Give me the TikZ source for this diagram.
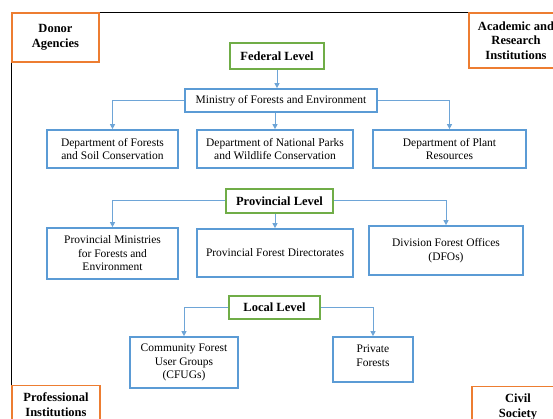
\documentclass[tikz,border=0pt]{standalone}
\usepackage{fontspec}
\setmainfont{Liberation Serif}
\usetikzlibrary{arrows.meta}
\definecolor{bblue}{RGB}{91,155,213}
\definecolor{lblue}{RGB}{110,165,215}
\definecolor{ggreen}{RGB}{112,173,71}
\definecolor{oorange}{RGB}{237,125,49}
\tikzset{
  unitbox/.style={draw=bblue, line width=1.7pt, align=center, inner sep=2pt,
    font=\fontsize{11.5}{13.5}\selectfont},
  levelbox/.style={draw=ggreen, line width=1.5pt, align=center, inner sep=2pt,
    font=\fontsize{12.5}{14.5}\selectfont\bfseries},
  actorbox/.style={draw=oorange, line width=1.4pt, align=center, inner sep=2pt,
    font=\fontsize{12.5}{14.5}\selectfont\bfseries},
  link/.style={draw=lblue, line width=1pt, -{Triangle[length=5pt,width=5pt]}},
  frame/.style={draw=black, line width=1.4pt}
}
\begin{document}
\begin{tikzpicture}[x=1pt,y=-1pt]
\useasboundingbox (0,0) rectangle (553,419);
% corner actors
\node[actorbox, minimum width=87pt, minimum height=49pt] (donor) at (55.5,37.5) {Donor\\Agencies};
\node[actorbox, minimum width=94pt, minimum height=55pt] (acad) at (516,40.5) {Academic and\\Research\\Institutions};
\node[actorbox, minimum width=88pt, minimum height=50pt, anchor=north] (prof) at (56,385) {Professional\\Institutions\\[-2pt]};
\node[actorbox, minimum width=92pt, minimum height=50pt, anchor=north] (civil) at (518,386) {Civil\\Society\\[-2pt]};
% frame
\draw[frame] (donor.north east) -- (acad.north west);
\draw[frame] (donor.south west) -- (prof.north west);
% federal
\node[levelbox, minimum width=94pt, minimum height=26pt] (fed) at (277,56) {Federal Level};
\node[unitbox, minimum width=192pt, minimum height=23pt] (min) at (281,100.5) {Ministry of Forests and Environment};
\node[unitbox, minimum width=131pt, minimum height=38pt] (d1) at (112.5,149) {Department of Forests\\and Soil Conservation};
\node[unitbox, minimum width=156pt, minimum height=38pt] (d2) at (275,149) {Department of National Parks\\and Wildlife Conservation};
\node[unitbox, minimum width=153pt, minimum height=38pt] (d3) at (449.5,149) {Department of Plant\\Resources};
% provincial
\node[levelbox, minimum width=107pt, minimum height=24pt] (prov) at (279.5,201) {Provincial Level};
\node[unitbox, minimum width=131pt, minimum height=51pt] (p1) at (112.5,253.5) {Provincial Ministries\\for Forests and\\Environment};
\node[unitbox, minimum width=156pt, minimum height=48pt] (p2) at (275,253) {Provincial Forest Directorates};
\node[unitbox, minimum width=154pt, minimum height=49pt] (p3) at (446,250.5) {Division Forest Offices\\(DFOs)};
% local
\node[levelbox, minimum width=91pt, minimum height=23pt] (loc) at (274.5,307.5) {Local Level};
\node[unitbox, minimum width=108pt, minimum height=51pt] (c1) at (184,362.5) {Community Forest\\User Groups\\(CFUGs)};
\node[unitbox, minimum width=80pt, minimum height=45pt] (c2) at (373,359.5) {Private\\Forests\\[-6pt]};
% connectors
\draw[link] (fed.south) -- (fed.south |- min.north);
\draw[link] (min.west) -| (d1.north);
\draw[link] (d2.north |- min.south) -- (d2.north);
\draw[link] (min.east) -| (d3.north);
\draw[link] (prov.west) -| (p1.north);
\draw[link] (p2.north |- prov.south) -- (p2.north);
\draw[link] (prov.east) -| (p3.north);
\draw[link] (loc.west) -| (c1.north);
\draw[link] (loc.east) -| (c2.north);
\end{tikzpicture}
\end{document}
